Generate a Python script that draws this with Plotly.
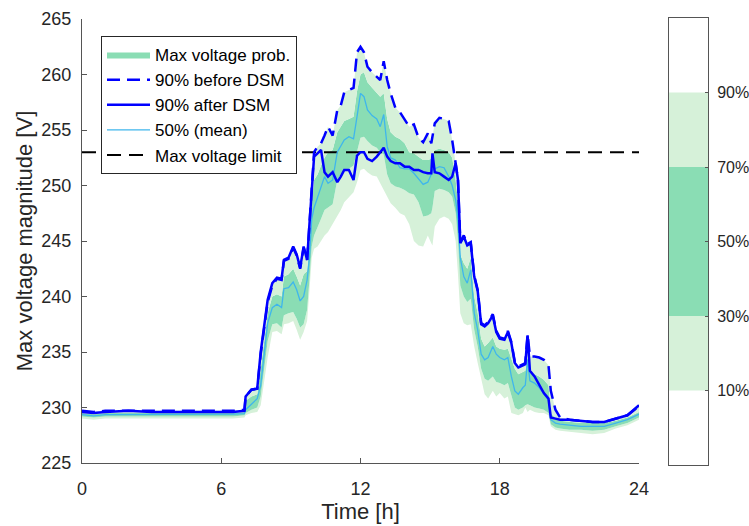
import plotly.graph_objects as go

# ---------------- data ----------------
hours = [0, 0.5, 1, 2, 3, 4, 5, 6, 6.5, 7.0,
         7.05, 7.3, 7.55, 7.7, 7.85, 8.0, 8.2, 8.4, 8.6, 8.7,
         8.9, 9.1, 9.25, 9.4, 9.55, 9.7, 9.8, 9.9, 10.0, 10.15,
         10.3, 10.45, 10.6, 10.8, 11.0, 11.15, 11.3, 11.5, 11.7, 11.85,
         12.0, 12.15, 12.3, 12.5, 12.7, 12.85, 13.0, 13.15, 13.3, 13.5,
         13.7, 13.9, 14.1, 14.3, 14.5, 14.7, 14.9, 15.05, 15.1, 15.2,
         15.4, 15.6, 15.8, 15.95, 16.1, 16.2, 16.3, 16.45, 16.6, 16.75,
         16.9, 17.05, 17.2, 17.35, 17.5, 17.7, 17.85, 18.0, 18.2, 18.35,
         18.5, 18.65, 18.8, 19.0, 19.1, 19.2, 19.3, 19.5, 19.7, 19.9,
         20.1, 20.2, 20.4, 20.6, 21, 21.5, 22, 22.5, 23, 23.5,
         24]

after_dsm_90 = [229.6, 229.5, 229.6, 229.7, 229.6, 229.6, 229.6, 229.6, 229.6, 229.7,
                231.0, 231.6, 231.7, 235.0, 237.5, 239.7, 241.2, 241.7, 241.6, 243.3,
                243.5, 244.5, 243.8, 242.6, 244.5, 243.3, 246.5, 250.0, 252.6, 252.9,
                253.2, 251.2, 250.8, 251.2, 250.3, 250.8, 251.4, 251.4, 250.5, 252.7,
                253.0, 253.0, 252.4, 252.2, 252.6, 253.0, 253.4, 252.6, 252.2, 252.0,
                252.0, 251.7, 251.7, 251.4, 251.4, 251.2, 251.1, 251.1, 252.9, 251.2,
                251.1, 250.8, 250.5, 250.8, 252.0, 250.5, 244.8, 245.4, 244.6, 244.8,
                241.8, 240.5, 237.5, 237.3, 237.6, 238.3, 236.8, 236.2, 236.1, 236.8,
                235.8, 234.0, 233.6, 233.8, 233.9, 236.5, 233.3, 232.8, 232.0, 231.3,
                230.8, 229.1, 229.0, 228.9, 228.9, 228.8, 228.7, 228.7, 229.0, 229.3,
                230.2]

before_dsm_90 = [229.7, 229.6, 229.7, 229.7, 229.7, 229.7, 229.7, 229.7, 229.7, 229.8,
                 231.0, 231.6, 231.7, 234.8, 237.3, 239.5, 241.0, 241.6, 241.5, 243.2,
                 243.4, 244.4, 243.7, 242.5, 244.4, 243.3, 246.5, 250.0, 253.0, 253.5,
                 253.8, 254.5, 255.3, 254.5, 256.8, 257.2, 258.4, 258.6, 258.8, 262.0,
                 262.5, 262.0, 260.7, 260.2, 259.8, 259.5, 261.2, 259.5, 258.3, 257.0,
                 256.6, 256.0, 255.3, 255.5, 254.3, 253.9, 254.7, 253.8, 254.5, 255.6,
                 256.1, 256.0, 255.8, 254.1, 252.0, 250.5, 244.9, 245.5, 244.7, 244.9,
                 241.9, 240.6, 237.6, 237.4, 237.7, 238.4, 236.9, 236.3, 236.2, 236.9,
                 235.9, 234.1, 233.7, 233.9, 234.0, 236.6, 234.6, 234.6, 234.5, 234.3,
                 233.8, 231.5, 229.8, 229.1, 228.9, 228.8, 228.7, 228.7, 229.0, 229.3,
                 230.1]

prob_70 = [229.5, 229.4, 229.5, 229.5, 229.5, 229.5, 229.5, 229.5, 229.5, 229.6,
           230.6, 231.0, 231.2, 233.5, 236.0, 238.5, 240.0, 240.2, 240.0, 241.8,
           242.0, 242.5, 241.8, 241.0, 242.0, 242.3, 245.0, 248.5, 250.5, 251.0,
           251.8, 252.5, 253.0, 253.2, 254.8, 255.3, 255.8, 256.0, 256.2, 258.5,
           260.0, 260.2, 259.3, 258.8, 258.3, 258.0, 258.3, 256.0, 254.8, 254.4,
           254.2, 253.8, 253.0, 252.9, 252.6, 252.3, 252.3, 252.4, 252.8, 253.2,
           253.3, 253.2, 253.0, 252.5, 250.5, 248.5, 243.8, 243.0, 242.5, 243.5,
           240.0, 238.5, 236.2, 235.5, 235.8, 236.3, 235.5, 235.3, 235.2, 235.3,
           234.4, 233.5, 233.0, 233.2, 233.3, 234.6, 233.2, 233.0, 232.8, 232.5,
           232.0, 229.5, 229.0, 228.8, 228.7, 228.6, 228.6, 228.6, 228.8, 229.1,
           229.6]

mean_50 = [229.35, 229.25, 229.35, 229.35, 229.35, 229.35, 229.35, 229.4, 229.4, 229.45,
           229.8, 230.3, 230.8, 232.0, 235.0, 237.6, 239.0, 239.3, 239.0, 240.7,
           240.8, 241.3, 240.6, 239.6, 240.0, 241.5, 243.5, 247.0, 248.0, 248.9,
           250.0, 250.8, 250.2, 250.5, 253.0, 253.5, 254.1, 254.4, 254.2, 256.2,
           258.3, 258.0, 256.8, 256.3, 256.0, 255.3, 256.4, 253.5, 252.5, 252.3,
           251.6, 251.5, 251.5, 251.1, 250.6, 250.1, 250.3, 251.0, 251.4, 251.5,
           251.7, 251.6, 250.8, 250.0, 248.7, 246.9, 243.5, 241.8, 241.2, 242.4,
           238.5, 237.0, 234.8, 234.3, 234.5, 235.5, 234.8, 234.5, 234.3, 234.5,
           232.8, 231.5, 231.2, 231.8, 232.0, 234.3, 232.4, 232.2, 231.8, 231.2,
           230.7, 228.9, 228.6, 228.5, 228.4, 228.3, 228.3, 228.3, 228.6, 228.9,
           229.4]

prob_30 = [229.2, 229.1, 229.2, 229.2, 229.2, 229.2, 229.2, 229.2, 229.2, 229.3,
           229.5, 229.8, 230.0, 231.0, 233.5, 236.0, 237.5, 237.6, 237.2, 238.3,
           238.5, 238.6, 238.0, 237.2, 237.5, 238.8, 241.5, 244.5, 245.5, 246.2,
           247.0, 247.8, 248.0, 248.3, 250.5, 251.0, 251.3, 251.5, 251.8, 253.0,
           254.3, 254.4, 254.0, 253.6, 253.4, 253.0, 252.8, 251.0, 250.2, 249.9,
           249.8, 249.6, 249.3, 249.2, 248.5, 247.2, 247.3, 247.5, 248.0, 249.5,
           249.7, 249.6, 249.4, 249.0, 247.5, 245.0, 241.0, 240.0, 239.5, 239.8,
           237.0, 235.5, 233.5, 232.6, 232.4, 232.8, 232.3, 232.2, 232.0, 232.2,
           231.0, 230.0, 229.8, 230.0, 230.2, 230.3, 230.2, 230.0, 229.9, 229.8,
           229.5, 228.5, 228.2, 228.1, 228.0, 228.0, 227.9, 228.0, 228.3, 228.6,
           229.1]

prob_10 = [229.0, 228.9, 229.0, 229.0, 229.0, 229.0, 229.0, 229.0, 229.0, 229.1,
           229.3, 229.5, 229.6, 230.2, 232.5, 234.5, 236.8, 236.9, 236.6, 237.5,
           237.6, 237.8, 237.0, 236.1, 236.8, 237.8, 240.5, 243.5, 244.3, 244.5,
           245.0, 245.5, 245.8, 246.5, 247.2, 247.8, 248.5, 249.0, 249.4, 250.3,
           251.4, 251.5, 251.2, 250.9, 250.8, 250.2, 249.6, 248.9, 248.4, 248.0,
           247.5, 247.3, 246.5, 245.0, 244.6, 244.5, 245.5, 244.8, 244.6, 246.3,
           247.0, 247.2, 247.0, 246.5, 245.0, 242.0, 238.5, 237.6, 237.4, 237.5,
           235.5, 234.0, 232.5, 231.2, 230.8, 231.5, 231.0, 231.3, 230.8, 231.0,
           229.5, 229.4, 229.3, 229.5, 230.0, 229.6, 229.8, 229.6, 229.5, 229.5,
           229.3, 228.3, 228.0, 227.9, 227.8, 227.7, 227.6, 227.7, 228.1, 228.4,
           228.9]

limit_v = 253
x_ticks = [0, 6, 12, 18, 24]
y_ticks = [225, 230, 235, 240, 245, 250, 255, 260, 265]
cb_levels = [10, 30, 70, 90]
cb_ticks = [10, 30, 50, 70, 90]
cb_labels = ["10%", "30%", "50%", "70%", "90%"]

n = len(hours)
for s in (after_dsm_90, before_dsm_90, prob_70, mean_50, prob_30, prob_10):
    assert len(s) == n, len(s)

# ---------------- styles ----------------
LIGHT = "#D6F1D9"
MEDIUM = "#8ADDB4"
BLUE = "#0000FF"
MEANC = "#3FB6EC"
AX = "#262626"
AXL = "#555555"
FONT = "Liberation Sans, Arial, sans-serif"

fig = go.Figure()

fig.add_trace(go.Scatter(x=hours, y=prob_10, mode="lines", line=dict(width=0),
                         showlegend=False, hoverinfo="skip"))
fig.add_trace(go.Scatter(x=hours, y=prob_30, mode="lines", line=dict(width=0),
                         fill="tonexty", fillcolor=LIGHT, showlegend=False, hoverinfo="skip"))
fig.add_trace(go.Scatter(x=hours, y=prob_70, mode="lines", line=dict(width=0),
                         fill="tonexty", fillcolor=MEDIUM, name="Max voltage prob.",
                         legendrank=1, legendgroup="a"))
fig.add_trace(go.Scatter(x=hours, y=before_dsm_90, mode="lines", line=dict(width=0),
                         fill="tonexty", fillcolor=LIGHT, showlegend=False, hoverinfo="skip"))
fig.add_trace(go.Scatter(x=[hours[0], hours[-1]], y=[limit_v, limit_v], mode="lines",
                         line=dict(color="black", width=2, dash="14px,8px"),
                         name="Max voltage limit", legendrank=5, legendgroup="e"))
fig.add_trace(go.Scatter(x=hours, y=mean_50, mode="lines",
                         line=dict(color=MEANC, width=1.3),
                         name="50% (mean)", legendrank=4, legendgroup="d"))
fig.add_trace(go.Scatter(x=hours, y=before_dsm_90, mode="lines",
                         line=dict(color=BLUE, width=2.5, dash="13px,7px"),
                         name="90% before DSM", legendrank=2, legendgroup="b"))
fig.add_trace(go.Scatter(x=hours, y=after_dsm_90, mode="lines",
                         line=dict(color=BLUE, width=2.5),
                         name="90% after DSM", legendrank=3, legendgroup="c"))

# colour bar built from band levels
band_lo = cb_levels[:-1]
band_hi = cb_levels[1:]
band_col = [LIGHT, MEDIUM, LIGHT]
fig.add_trace(go.Bar(x=[0.5] * len(band_lo), y=[h - l for l, h in zip(band_lo, band_hi)],
                     base=band_lo, width=1, marker=dict(color=band_col, line=dict(width=0)),
                     xaxis="x2", yaxis="y2", showlegend=False, hoverinfo="skip"))

W, H = 749, 526
ml, mt = 82, 18
mr = W - 708
mb = H - 465
pw = W - ml - mr
ph = H - mt - mb
main_right = (639 - 82) / pw
cb_left = (669 - 82) / pw

fig.update_layout(
    width=W, height=H,
    margin=dict(l=ml, r=mr, t=mt, b=mb, autoexpand=False),
    paper_bgcolor="white", plot_bgcolor="white",
    font=dict(family=FONT, color=AX, size=18),
    barmode="overlay",
    xaxis=dict(domain=[0, main_right], range=[0, 24], tickvals=x_ticks,
               ticks="inside", ticklen=5, tickcolor=AXL, automargin=False,
               showline=True, linecolor=AXL, linewidth=1,
               showgrid=False, zeroline=False, ticklabelstandoff=9,
               tickfont=dict(size=18, color=AX),
               title=dict(text="Time [h]", font=dict(size=22, color=AX), standoff=6)),
    yaxis=dict(range=[225, 265], tickvals=y_ticks, automargin=False,
               domain=[(465 - 463) / ph, (465 - 19) / ph],
               ticks="inside", ticklen=5, tickcolor=AXL,
               showline=True, linecolor=AXL, linewidth=1,
               showgrid=False, zeroline=False, ticklabelstandoff=6,
               tickfont=dict(size=18, color=AX),
               title=dict(text="Max voltage magnitude [V]", font=dict(size=22, color=AX), standoff=2)),
    xaxis2=dict(domain=[cb_left, 1], range=[0, 1], anchor="y2", automargin=False,
                showticklabels=False, ticks="", showgrid=False, zeroline=False,
                showline=True, mirror=True, linecolor=AXL, linewidth=1),
    yaxis2=dict(range=[-10, 110], anchor="x2", side="right", automargin=False,
                domain=[0, 1],
                tickvals=cb_ticks, ticktext=cb_labels,
                ticks="inside", ticklen=3, tickcolor=AXL,
                showgrid=False, zeroline=False, ticklabelstandoff=5,
                showline=True, mirror=True, linecolor=AXL, linewidth=1,
                tickfont=dict(size=16, color=AX)),
    legend=dict(x=(101 - 82) / pw, y=(465 - 36) / ph,
                xanchor="left", yanchor="top",
                bgcolor="white", bordercolor=AX, borderwidth=1,
                font=dict(size=17, color="black"), itemwidth=43,
                tracegroupgap=0),
    showlegend=True,
)

# remove the browser's default page margin so the figure sits at the window's corner
fig.write_html("out.html", config={"displayModeBar": False},
               post_script="document.body.style.margin='0px';")
